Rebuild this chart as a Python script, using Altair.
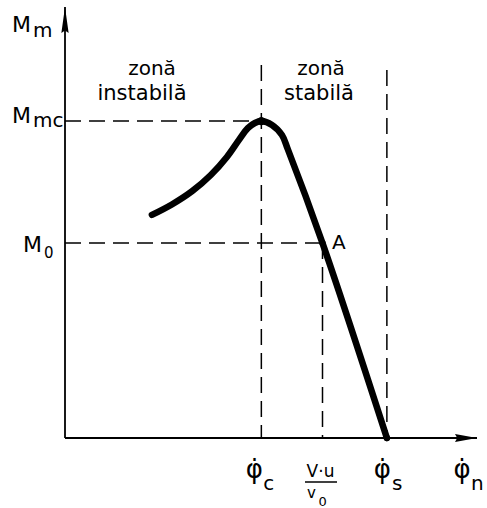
import altair as alt
import pandas as pd

# Torque-speed characteristic M_m(phi_dot), relative units
x_max = 1.28          # end of the speed axis
y_max = 1.36          # end of the torque axis

phi_c = 0.61          # critical speed (peak torque)
phi_a = 0.80          # V·u / v0, operating point A
phi_s = 1.0           # synchronous speed
M_mc = 1.0            # maximum (critical) torque
M_0 = 0.615           # load torque at A

curve_phi = [0.270, 0.332, 0.395, 0.453, 0.503, 0.540, 0.568, 0.590, phi_c,
             0.643, 0.674, 0.693, phi_a, phi_s]
curve_M = [0.704, 0.737, 0.779, 0.830, 0.887, 0.940, 0.978, 0.994, M_mc,
           0.988, 0.956, 0.909, M_0, 0.0]

# dashed construction lines
guide_x = [0.0, 0.0, phi_c, phi_a, phi_s]
guide_x2 = [phi_c, phi_a, phi_c, phi_a, phi_s]
guide_y = [M_mc, M_0, 1.177, M_0, 1.161]
guide_y2 = [M_mc, M_0, 0.0, 0.0, 0.0]

# highlighted points: peak, A, synchronous speed
dot_x = [phi_c, phi_a, phi_s]
dot_y = [M_mc, M_0, 0.0]
dot_size = [70, 40, 40]

FONT = "DejaVu Sans"
xs = alt.Scale(domain=[0, x_max], nice=False, zero=True)
ys = alt.Scale(domain=[0, y_max], nice=False, zero=True)

curve_df = pd.DataFrame({"x": curve_phi, "y": curve_M})
guide_df = pd.DataFrame({"x": guide_x, "x2": guide_x2, "y": guide_y, "y2": guide_y2})
dot_df = pd.DataFrame({"x": dot_x, "y": dot_y, "s": dot_size})
axes_df = pd.DataFrame({"x": [0.0, 0.0], "x2": [0.0, x_max], "y": [0.0, 0.0], "y2": [y_max, 0.0]})

X = lambda f="x": alt.X(f"{f}:Q", scale=xs, axis=None)
Y = lambda f="y": alt.Y(f"{f}:Q", scale=ys, axis=None)

axes = alt.Chart(axes_df).mark_rule(color="black", strokeWidth=1.8).encode(
    x=X(), x2="x2:Q", y=Y(), y2="y2:Q"
)

arrow_up = alt.Chart(pd.DataFrame({"x": [0.0], "y": [y_max]})).mark_point(
    shape="M0,0L0.28,2L0,1.8L-0.28,2Z", size=676, filled=True, color="black", opacity=1
).encode(x=X(), y=Y())

arrow_right = alt.Chart(pd.DataFrame({"x": [x_max], "y": [0.0]})).mark_point(
    shape="M0,0L-2,-0.36L-1.8,0L-2,0.36Z", size=484, filled=True, color="black", opacity=1
).encode(x=X(), y=Y())

guides = alt.Chart(guide_df).mark_rule(
    color="black", strokeWidth=1.5, strokeDash=[16, 8]
).encode(x=X(), x2="x2:Q", y=Y(), y2="y2:Q")

curve = alt.Chart(curve_df).mark_line(
    color="black", strokeWidth=6.5, strokeCap="round", strokeJoin="round",
    interpolate="catmull-rom"
).encode(x=X(), y=Y())

dots = alt.Chart(dot_df).mark_circle(color="black", opacity=1).encode(
    x=X(), y=Y(), size=alt.Size("s:Q", scale=None, legend=None)
)


def label(text, x=None, y=None, px=None, py=None, dx=0, dy=0, size=20, align="left"):
    """Text anchored at a data point (x, y) or at pixel values (px, py)."""
    enc = {}
    enc["x"] = X() if x is not None else alt.value(px)
    enc["y"] = Y() if y is not None else alt.value(py)
    df = pd.DataFrame({"x": [x if x is not None else 0.0],
                       "y": [y if y is not None else 0.0],
                       "t": [text]})
    return alt.Chart(df).mark_text(
        font=FONT, fontSize=size, align=align, baseline="alphabetic",
        dx=dx, dy=dy, color="black"
    ).encode(text="t:N", **enc)


phi_dot = "\u03c6\u0307"

labels = [
    # torque axis
    label("M", x=0.0, y=y_max, dx=-53, dy=25, size=22),
    label("m", x=0.0, y=y_max, dx=-32, dy=30, size=20),
    label("M", x=0.0, y=M_mc, dx=-53, dy=2, size=22),
    label("mc", x=0.0, y=M_mc, dx=-32, dy=6, size=20),
    label("M", x=0.0, y=M_0, dx=-42, dy=9, size=22),
    label("0", x=0.0, y=M_0, dx=-21, dy=15, size=15),
    # zones
    label("zonă", px=87, py=68, size=20, align="center"),
    label("instabilă", px=77, py=93, size=21, align="center"),
    label("zonă", px=256, py=68, size=20, align="center"),
    label("stabilă", px=254, py=93, size=21, align="center"),
    # operating point
    label("A", x=phi_a, y=M_0, dx=9.5, dy=6, size=20),
    # speed axis
    label(phi_dot, x=phi_c, y=0.0, dx=-7, dy=40, size=26, align="center"),
    label("c", x=phi_c, y=0.0, dx=2, dy=52, size=20),
    label("V·u", x=phi_a, y=0.0, dx=-2, dy=39, size=17, align="center"),
    label("v", x=phi_a, y=0.0, dx=-15.5, dy=60, size=15),
    label("0", x=phi_a, y=0.0, dx=-4, dy=68, size=13),
    label(phi_dot, x=phi_s, y=0.0, dx=-4.5, dy=40, size=26, align="center"),
    label("s", x=phi_s, y=0.0, dx=5, dy=52, size=20),
    label(phi_dot, x=x_max, y=0.0, dx=-15, dy=40, size=26, align="center"),
    label("n", x=x_max, y=0.0, dx=-6, dy=52, size=20),
]

frac_bar = alt.Chart(pd.DataFrame({"x": [phi_a]})).mark_rule(
    color="black", strokeWidth=1.5
).encode(x=alt.value(240), x2=alt.value(272), y=alt.value(475))

chart = alt.layer(
    guides, axes, arrow_up, arrow_right, curve, dots, frac_bar, *labels
).properties(
    width=412, height=431,
    autosize=alt.AutoSizeParams(type="none"),
    padding={"left": 65, "top": 7, "right": 10, "bottom": 70},
    background="white",
).configure_view(stroke=None)

chart.save("out.html", embed_options={"renderer": "svg", "actions": False})
